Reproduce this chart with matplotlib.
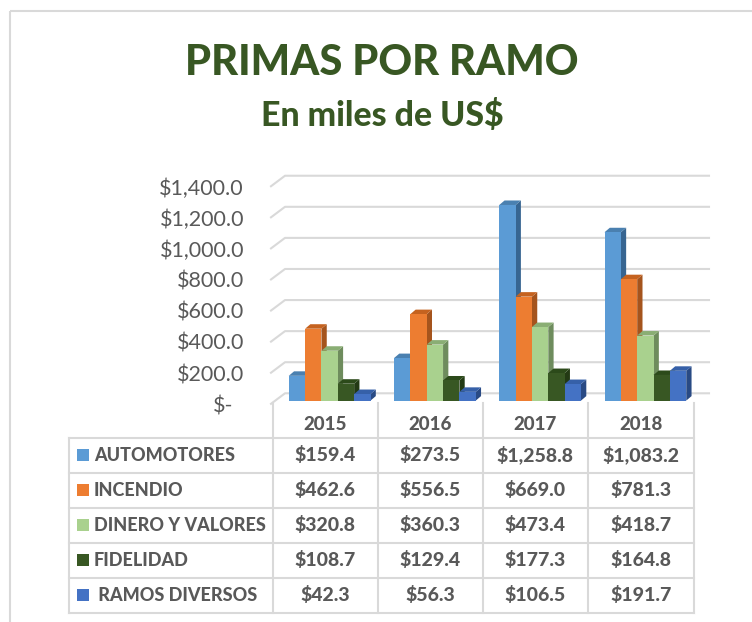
import matplotlib
matplotlib.use('Agg')
import matplotlib.pyplot as plt
from matplotlib.patches import Polygon, Rectangle

plt.rcParams['font.family'] = ['Lato', 'DejaVu Sans']

years = ['2015', '2016', '2017', '2018']
ramos = ['AUTOMOTORES', 'INCENDIO', 'DINERO Y VALORES', 'FIDELIDAD', ' RAMOS DIVERSOS']
automotores = [159.4, 273.5, 1258.8, 1083.2]
incendio = [462.6, 556.5, 669.0, 781.3]
dinero = [320.8, 360.3, 473.4, 418.7]
fidelidad = [108.7, 129.4, 177.3, 164.8]
diversos = [42.3, 56.3, 106.5, 191.7]
series = [automotores, incendio, dinero, fidelidad, diversos]
ticks = [0, 200, 400, 600, 800, 1000, 1200, 1400]

front = ['#5B9BD5', '#ED7D31', '#A9D18E', '#385723', '#4472C4']
top = ['#4A80B0', '#C5621F', '#8AAE74', '#2C4A1A', '#3660A8']
side = ['#376591', '#A5541D', '#6E8C5D', '#233A14', '#294A84']
grid = '#D9D9D9'
txt = '#595959'
green = '#385723'

W, H = 752, 622
fig = plt.figure(figsize=(W / 100, H / 100), dpi=100)

# overlay in pixels for the frame and the data table
bg = fig.add_axes([0, 0, 1, 1])
bg.set_xlim(0, W)
bg.set_ylim(H, 0)
bg.axis('off')

# plot area, front plane of the bars
x0, x1, y0 = 273, 694, 400.6
pxv = 31.08 / 200
ax = fig.add_axes([x0 / W, 1 - y0 / H, (x1 - x0) / W, 1400 * pxv / H])
ax.set_xlim(-0.5, 3.5)
ax.set_ylim(0, 1400)
ax.axis('off')
pxx = (x1 - x0) / 4.

bg.plot([10, 10], [11, H], color=grid, lw=1.5, solid_capstyle='butt')
bg.plot([10, W], [11, 11], color=grid, lw=1.5, solid_capstyle='butt')

bg.text(382, 63, 'PRIMAS POR RAMO', ha='center', va='center', color=green,
        fontsize=30, fontweight=900)
bg.text(382, 115, 'En miles de US$', ha='center', va='center', color=green,
        fontsize=24.4, fontweight=900)

# back wall gridlines with the short diagonal on the left
for t in ticks:
    yb = 393.3 - t * pxv
    bg.plot([271, 285, 709], [yb + 10.5, yb, yb], color=grid, lw=1.5, zorder=1)
    lab = '$-' if t == 0 else '${:,.1f}'.format(t)
    bg.text(233 if t == 0 else 244, y0 + 5.5 - t * pxv, lab, ha='right',
            va='center', color=txt, fontsize=15.5)

# bars
bw = 16.35 / pxx
dx = 5.3 / pxx
dy = 4.5 / pxv
shift = 4.0 / pxx
z = 3
for i in range(len(years)):
    for j, s in enumerate(series):
        v = s[i]
        xl = i + shift + (j - 2.5) * bw
        xr = xl + bw
        ax.add_patch(Polygon([[xr, 0], [xr + dx, dy], [xr + dx, v + dy], [xr, v]],
                             fc=side[j], ec='none', zorder=z, clip_on=False))
        ax.add_patch(Polygon([[xl, v], [xl + dx, v + dy], [xr + dx, v + dy], [xr, v]],
                             fc=top[j], ec='none', zorder=z, clip_on=False))
        ax.bar(xl, v, bw, align='edge', color=front[j], zorder=z, clip_on=False)
        z += 1

# data table
rows = [437.7, 472.7, 507.7, 542.7, 577.7, 612.7]
cols = [272.7, 377.7, 482.7, 588, 694]
for y in rows:
    bg.plot([69, 694], [y, y], color=grid, lw=1.5, zorder=1)
bg.plot([69, 69], [rows[0], rows[-1]], color=grid, lw=1.5, zorder=1)
for c in cols:
    bg.plot([c, c], [403, rows[-1]], color=grid, lw=1.5, zorder=1)

for k, yr in enumerate(years):
    bg.text((cols[k] + cols[k + 1]) / 2., 424.5, yr, ha='center', va='center',
            color=txt, fontsize=13.5, fontweight=900)
for j, name in enumerate(ramos):
    yc = (rows[j] + rows[j + 1]) / 2.
    bg.add_patch(Rectangle((77, yc - 6), 12, 12, fc=front[j], ec='none'))
    bg.text(94, yc, name, ha='left', va='center', color=txt, fontsize=13, fontweight=900)
    for k in range(len(years)):
        bg.text((cols[k] + cols[k + 1]) / 2., yc, '${:,.1f}'.format(series[j][k]),
                ha='center', va='center', color=txt, fontsize=14, fontweight=900)

fig.savefig('out.png', dpi=100)
